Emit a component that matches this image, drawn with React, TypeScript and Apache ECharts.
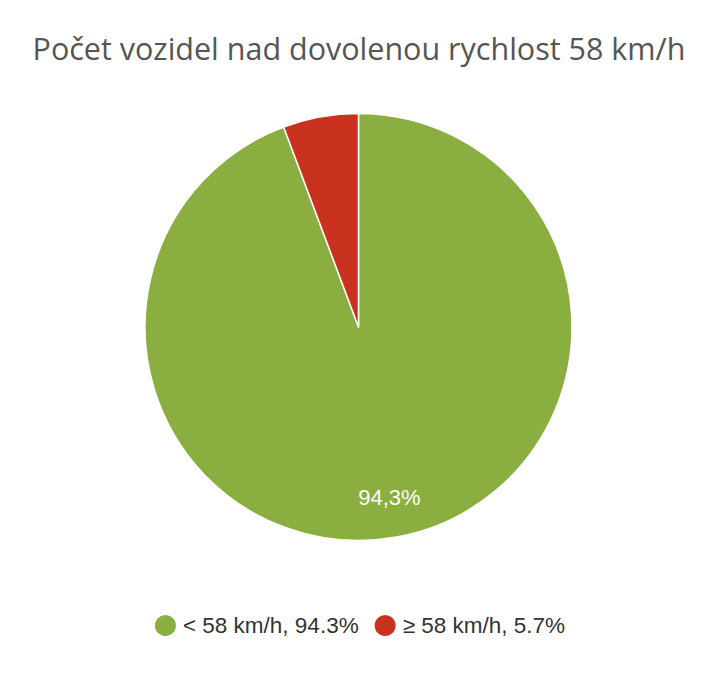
import { useEffect, useRef } from "react";
import * as echarts from "echarts";

const categories = ["< 58 km/h", "≥ 58 km/h"];
const shares = [94.3, 5.7];
const sliceColors = ["#8bae41", "#c9321f"];
const titleText = "Počet vozidel nad dovolenou rychlost 58 km/h";

export default function App() {
  const chartRef = useRef<HTMLDivElement>(null);

  useEffect(() => {
    if (!chartRef.current) return;

    const pieData = categories.map((name, i) => ({
      name,
      value: shares[i],
      itemStyle: { color: sliceColors[i] },
    }));

    const chart = echarts.init(chartRef.current, null, { renderer: "svg" });
    chart.setOption({
      animation: false,
      title: {
        text: titleText,
        left: "center",
        top: 27,
        textStyle: {
          fontFamily: "Open Sans",
          fontSize: 30.5,
          fontWeight: "normal",
          color: "#555555",
        },
      },
      legend: {
        top: 608,
        left: "center",
        icon: "circle",
        itemWidth: 25,
        itemHeight: 23,
        itemGap: 14,
        data: categories,
        formatter: (name: string) => {
          const i = categories.indexOf(name);
          return `${name}, ${shares[i].toFixed(1)}%`;
        },
        textStyle: {
          fontFamily: "Liberation Sans",
          fontSize: 22.5,
          color: "#333333",
        },
      },
      series: [
        {
          type: "pie",
          center: [358.5, 327],
          radius: [0, 213.5],
          startAngle: 90,
          clockwise: true,
          label: { show: false },
          labelLine: { show: false },
          itemStyle: { borderColor: "#ffffff", borderWidth: 1.5 },
          data: pieData,
        },
        {
          // transparent ring only used to place the slice label
          type: "pie",
          silent: true,
          center: [358.5, 327],
          radius: [128, 213.5],
          startAngle: 90,
          clockwise: true,
          itemStyle: { color: "transparent" },
          labelLine: { show: false },
          data: categories.map((name, i) => ({
            name,
            value: shares[i],
            label: {
              show: i === 0,
              position: "inside",
              formatter: () => `${shares[i].toFixed(1).replace(".", ",")}%`,
              fontFamily: "Liberation Sans",
              fontSize: 22,
              color: "#ffffff",
            },
          })),
        },
      ],
    });

    return () => {
      chart.dispose();
    };
  }, []);

  return (
    <div
      ref={chartRef}
      style={{ position: "fixed", left: 0, top: 0, width: 718, height: 699, background: "#ffffff" }}
    />
  );
}
